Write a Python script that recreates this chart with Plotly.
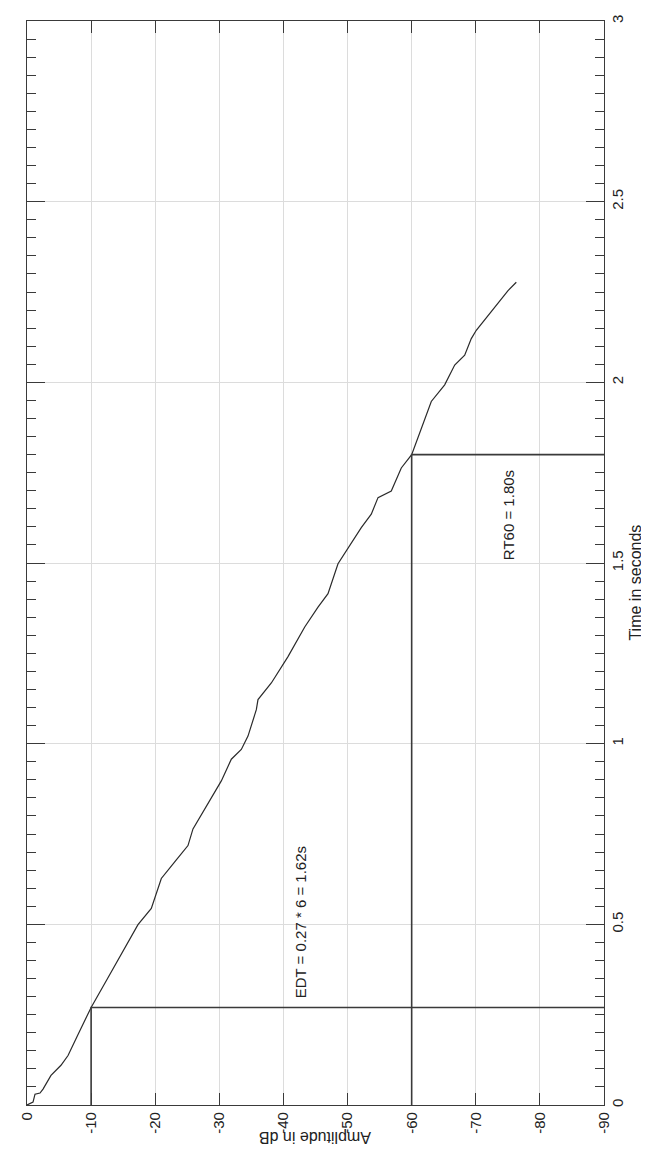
import plotly.graph_objects as go

# Energy decay curve (amplitude in dB vs time in seconds)
amp_db = [0.0, -0.94, -1.25, -2.03, -2.5, -3.74, -5.30, -6.40, -7.96, -9.5, -10.0,
          -12.63, -14.71, -17.31, -19.39, -20.95, -23.04, -25.11, -25.89, -27.72,
          -29.28, -30.31, -31.87, -33.43, -34.47, -35.77, -36.03, -38.11, -40.71,
          -43.32, -45.39, -46.95, -48.51, -50.58, -52.14, -53.70, -54.75, -56.82,
          -58.38, -60.0, -61.50, -63.06, -65.15, -66.71, -68.27, -69.30, -70.08,
          -71.91, -73.47, -75.03, -76.32]
time_s = [0.0, 0.008, 0.030, 0.033, 0.044, 0.082, 0.110, 0.137, 0.195, 0.250, 0.27,
          0.352, 0.416, 0.499, 0.544, 0.627, 0.673, 0.718, 0.764, 0.819,
          0.865, 0.897, 0.957, 0.984, 1.021, 1.094, 1.122, 1.168, 1.241,
          1.323, 1.378, 1.415, 1.498, 1.553, 1.598, 1.635, 1.681, 1.699,
          1.763, 1.80, 1.873, 1.947, 1.993, 2.048, 2.075, 2.121, 2.144,
          2.185, 2.222, 2.254, 2.277]

edt_db, edt_t = -10, 0.27
rt_db, rt_t = -60, 1.80

amp_ticks = [0, -10, -20, -30, -40, -50, -60, -70, -80, -90]
amp_ticktext = ["0", "-10", "-20", "-30", "-40", "-50", "-60", "-70", "-80", "-90"]
time_ticks = [0, 0.5, 1, 1.5, 2, 2.5, 3]
time_ticktext = ["0", "0.5", "1", "1.5", "2", "2.5", "3"]

FONT = "Liberation Sans, Arial, Helvetica, sans-serif"
AX = "#3a3a3a"
TXT = "#222222"

fig = go.Figure()
fig.add_trace(go.Scatter(x=amp_db, y=time_s, mode="lines",
                         line=dict(color="#2a2a2a", width=1.2), hoverinfo="skip"))
# EDT marker lines
fig.add_trace(go.Scatter(x=[edt_db, edt_db, -90], y=[0, edt_t, edt_t], mode="lines",
                         line=dict(color="#3a3a3a", width=1.6), hoverinfo="skip"))
# RT60 marker lines
fig.add_trace(go.Scatter(x=[rt_db, rt_db, -90], y=[0, rt_t, rt_t], mode="lines",
                         line=dict(color="#3a3a3a", width=1.6), hoverinfo="skip"))

fig.add_annotation(x=-42.7, y=0.505, xref="x", yref="y",
                   text="EDT = 0.27 * 6 = 1.62s", showarrow=False, textangle=-90,
                   font=dict(family=FONT, size=15, color=TXT))
fig.add_annotation(x=-75.0, y=1.632, xref="x", yref="y",
                   text="RT60 = 1.80s", showarrow=False, textangle=-90,
                   font=dict(family=FONT, size=15, color=TXT))
fig.add_annotation(x=0.5, y=-0.039, xref="paper", yref="paper",
                   text="Amplitude in dB", showarrow=False, textangle=180,
                   font=dict(family=FONT, size=16, color=TXT))
fig.add_annotation(x=1.072, y=0.482, xref="paper", yref="paper",
                   text="Time in seconds", showarrow=False, textangle=-90,
                   font=dict(family=FONT, size=16, color=TXT))

fig.update_xaxes(range=[0, -90], tickvals=amp_ticks, ticktext=amp_ticktext,
                 tickangle=-90, ticks="inside", ticklen=12, tickcolor=AX,
                 showline=True, linecolor=AX, linewidth=1.2, mirror="ticks",
                 showgrid=True, gridcolor="#dcdcdc", gridwidth=1, zeroline=False,
                 tickfont=dict(family=FONT, size=15, color=TXT))
fig.update_yaxes(range=[0, 3], tickvals=time_ticks, ticktext=time_ticktext,
                 side="right", tickangle=-90, ticks="inside", ticklen=18, tickcolor=AX,
                 showline=True, linecolor=AX, linewidth=1.2, mirror="ticks",
                 showgrid=True, gridcolor="#dcdcdc", gridwidth=1, zeroline=False,
                 minor=dict(dtick=0.05, tick0=0, ticks="inside", ticklen=9,
                            tickcolor=AX, showgrid=False),
                 tickfont=dict(family=FONT, size=15, color=TXT))

fig.update_layout(width=649, height=1152, showlegend=False,
                  paper_bgcolor="white", plot_bgcolor="white",
                  margin=dict(l=19, r=53, t=7, b=55))

fig.write_html("out.html")
